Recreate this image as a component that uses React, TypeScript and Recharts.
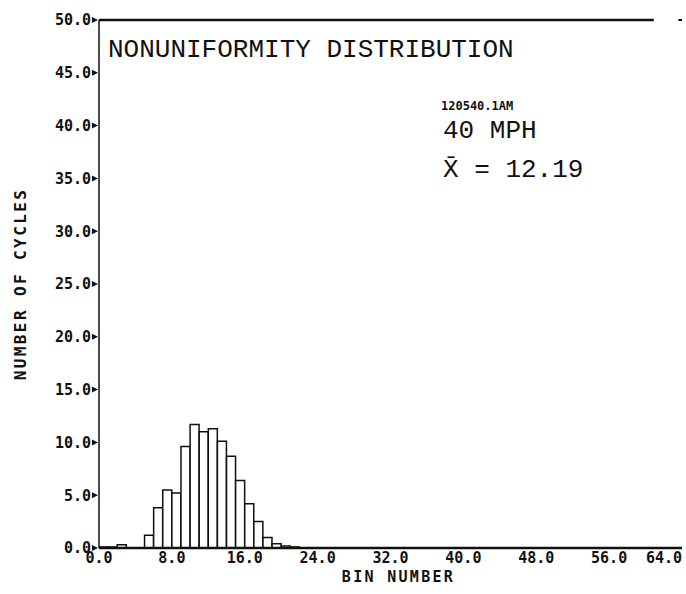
import { BarChart, Bar, XAxis, YAxis, ReferenceLine, Label } from "recharts";

// histogram bins (left edge of each bin) and the number of cycles counted in each
const binStarts = [0, 1, 2, 3, 4, 5, 6, 7, 8, 9, 10, 11, 12, 13, 14, 15, 16, 17, 18, 19, 20, 21];
const cycleCounts = [0.1, 0.1, 0.3, 0, 0, 1.2, 3.8, 5.5, 5.2, 9.6, 11.7, 11.0, 11.3, 10.1, 8.7, 6.4, 4.2, 2.5, 1.0, 0.4, 0.2, 0.1];

const xTicks = [0, 8, 16, 24, 32, 40, 48, 56, 64];
const xTickLabels = ["0.0", "8.0", "16.0", "24.0", "32.0", "40.0", "48.0", "56.0", "64.0"];
const yTicks = [0, 5, 10, 15, 20, 25, 30, 35, 40, 45, 50];

const INK = "#111";
const tickFont = "'DejaVu Sans Mono', monospace";
const typewriter = "'Liberation Mono', 'DejaVu Sans Mono', monospace";

const data = binStarts.map((bin, i) => ({ bin, center: bin + 0.5, count: cycleCounts[i] }));

const YTick = ({ x, y, payload }: any) => (
  <g>
    <text x={x} y={y} dy="0.36em" textAnchor="end" fontFamily={tickFont} fontWeight="bold" fontSize={15} fill={INK}>
      {Number(payload.value).toFixed(1)}
    </text>
    <polygon points={`${x + 1},${y - 3} ${x + 7},${y} ${x + 1},${y + 3}`} fill={INK} />
  </g>
);

const XTick = ({ x, y, payload }: any) => {
  const idx = xTicks.indexOf(payload.value);
  // the last label sits at the page's right edge; keep it inside
  const last = idx === xTicks.length - 1;
  return (
    <text
      x={last ? x + 4 : x}
      y={y}
      dy="0.72em"
      textAnchor={last ? "end" : "middle"}
      fontFamily={tickFont}
      fontWeight="bold"
      fontSize={15}
      fill={INK}
    >
      {xTickLabels[idx] ?? payload.value}
    </text>
  );
};

export default function App() {
  return (
    <div style={{ position: "fixed", left: 0, top: 0, width: 686, height: 594, background: "#fff" }}>
      <BarChart
        width={686}
        height={594}
        data={data}
        margin={{ top: 20, right: 4, left: 0, bottom: 0 }}
        barCategoryGap={0}
        barGap={0}
      >
        <XAxis
          dataKey='center'
          type='number'
          domain={[0, 64]}
          ticks={xTicks}
          allowDataOverflow
          height={46}
          tickLine={false}
          tickSize={0}
          tickMargin={4}
          tick={<XTick />}
          axisLine={{ stroke: INK, strokeWidth: 2.5 }}
        >
          <Label
            value='BIN NUMBER'
            position='insideBottom'
            offset={12}
            dx={8}
            fontFamily={tickFont}
            fontWeight='bold'
            fontSize={15}
            letterSpacing={2.3}
            fill={INK}
          />
        </XAxis>
        <YAxis
          type='number'
          domain={[0, 50]}
          ticks={yTicks}
          width={99}
          tickLine={false}
          tickSize={0}
          tickMargin={8}
          tick={<YTick />}
          axisLine={{ stroke: INK, strokeWidth: 1.5 }}
        >
          <Label
            value='NUMBER OF CYCLES'
            angle={-90}
            position='center'
            dx={-29}
            fontFamily={tickFont}
            fontWeight='bold'
            fontSize={16}
            letterSpacing={2.4}
            fill={INK}
          />
        </YAxis>
        <ReferenceLine
          segment={[{ x: 0, y: 50 }, { x: 60.9, y: 50 }]}
          stroke={INK}
          strokeWidth={2.5}
          ifOverflow='visible'
        />
        <ReferenceLine
          segment={[{ x: 63.6, y: 50 }, { x: 64, y: 50 }]}
          stroke={INK}
          strokeWidth={2}
          ifOverflow='visible'
        />
        <Bar dataKey='count' fill='#fff' stroke={INK} strokeWidth={1.5} isAnimationActive={false} />
      </BarChart>

      <svg width={686} height={594} style={{ position: "absolute", left: 0, top: 0, pointerEvents: "none" }}>
        <text x={108} y={57} fontFamily={typewriter} fontSize={26} fill={INK}>
          NONUNIFORMITY DISTRIBUTION
        </text>
        <text x={441} y={110} fontFamily={tickFont} fontWeight='bold' fontSize={12} fill={INK}>
          120540.1AM
        </text>
        <text x={443} y={138} fontFamily={typewriter} fontSize={26} fill={INK}>
          40 MPH
        </text>
        <text x={443} y={177} fontFamily={typewriter} fontSize={26} fill={INK}>
          X̄ = 12.19
        </text>
      </svg>
    </div>
  );
}
